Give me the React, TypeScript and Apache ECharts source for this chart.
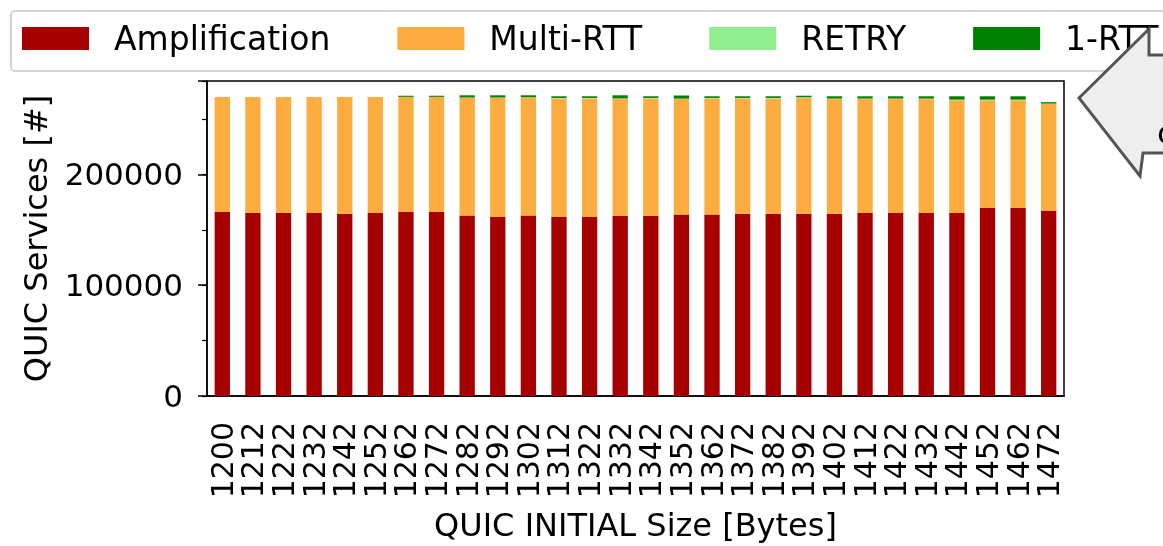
import React, { useEffect, useRef } from "react";
import * as echarts from "echarts";

const categories = ["1200","1212","1222","1232","1242","1252","1262","1272","1282","1292","1302","1312","1322","1332","1342","1352","1362","1372","1382","1392","1402","1412","1422","1432","1442","1452","1462","1472"];
const amplification = [166100,165200,165200,165200,164500,165200,166100,166100,162800,161600,162800,161600,161600,162500,162500,163700,163700,164500,164500,164500,164500,165200,165200,165200,165200,169700,169700,167000];
const multiRtt = [103800,104700,104700,104700,105400,104700,103700,103700,106200,107400,106400,107000,107000,105700,106100,104300,104900,104100,104100,104400,103500,102800,102800,102800,101800,97300,97300,96600];
const retry = [0,0,0,0,0,0,200,200,400,400,400,400,400,400,400,400,400,400,400,800,500,500,500,500,500,500,500,300];
const oneRtt = [0,0,0,0,0,0,1000,1000,2000,2000,1800,1500,1500,2800,1500,2800,1500,1500,1500,1300,2000,2000,2000,2000,3000,3000,3000,1300];
const yTicks = [0, 100000, 200000];

const FONT = "DejaVu Sans";

export default function App() {
  const ref = useRef<HTMLDivElement>(null);
  useEffect(() => {
    if (!ref.current) return;
    const chart = echarts.init(ref.current, undefined, { renderer: "svg" });
    const mk = (name: string, data: number[], color: string) => ({
      name,
      type: "bar",
      stack: "total",
      barWidth: "50%",
      data,
      itemStyle: { color },
      emphasis: { disabled: true },
    });
    chart.setOption({
      animation: false,
      textStyle: { fontFamily: FONT, color: "#000" },
      legend: {
        left: 22,
        top: 22,
        width: 1400,
        orient: "horizontal",
        padding: 0,
        itemWidth: 67,
        itemHeight: 23,
        itemGap: 67,
        icon: "rect",
        selectedMode: false,
        textStyle: { fontFamily: FONT, fontSize: 33, color: "#000", lineHeight: 32, padding: [0, 0, 0, 20] },
        data: ["Amplification", "Multi-RTT", "RETRY", "1-RTT"],
        z: 5,
      },
      grid: {
        left: 207,
        right: 99,
        top: 81,
        bottom: 147.5,
        show: true,
        borderColor: "#000",
        borderWidth: 1.5,
        backgroundColor: "transparent",
      },
      xAxis: {
        type: "category",
        data: categories,
        boundaryGap: true,
        name: "QUIC INITIAL Size [Bytes]",
        nameLocation: "middle",
        nameGap: 113,
        nameTextStyle: { fontFamily: FONT, fontSize: 32, color: "#000" },
        axisLine: { lineStyle: { color: "#000", width: 1.5 } },
        axisTick: { alignWithLabel: true, length: 9, lineStyle: { color: "#000", width: 1.5 } },
        axisLabel: { rotate: 90, interval: 0, fontFamily: FONT, fontSize: 30, color: "#000", margin: 26 },
        splitLine: { show: false },
      },
      yAxis: [
        {
          type: "value",
          min: 0,
          max: 284300,
          interval: 100000,
          name: "QUIC Services [#]",
          nameLocation: "middle",
          nameGap: 155,
          nameRotate: 90,
          nameTextStyle: { fontFamily: FONT, fontSize: 32, color: "#000" },
          axisLine: { show: true, lineStyle: { color: "#000", width: 1.5 } },
          axisTick: { show: true, length: 9, lineStyle: { color: "#000", width: 1.5 } },
          axisLabel: {
            fontFamily: FONT,
            fontSize: 31,
            color: "#000",
            margin: 24,
            formatter: (v: number) => (yTicks.includes(v) ? String(v) : ""),
          },
          splitLine: { show: false },
        },
        {
          type: "value",
          min: 0,
          max: 284300,
          interval: 50000,
          position: "left",
          axisLine: { show: false },
          axisTick: { show: true, length: 5, lineStyle: { color: "#000", width: 1.2 } },
          axisLabel: { show: false },
          splitLine: { show: false },
        },
      ],
      series: [
        mk("Amplification", amplification, "#a60000"),
        mk("Multi-RTT", multiRtt, "#fdad40"),
        mk("RETRY", retry, "#90ee90"),
        mk("1-RTT", oneRtt, "#008000"),
      ],
      graphic: [
        {
          type: "rect",
          z: 1,
          shape: { x: 11, y: 11, width: 1200, height: 60, r: 4 },
          style: { fill: "#fff", stroke: "#d4d4d4", lineWidth: 2 },
        },
        {
          type: "polygon",
          z: 100,
          shape: {
            points: [
              [1079, 98],
              [1149, 29],
              [1149, 55],
              [1190, 55],
              [1190, 153],
              [1143, 153],
              [1140, 176],
            ],
          },
          style: { fill: "#eeeeee", stroke: "#555555", lineWidth: 3 },
        },
        {
          type: "text",
          z: 101,
          x: 1157,
          y: 133,
          style: { text: "c", fontFamily: FONT, fontSize: 32, fill: "#000", verticalAlign: "middle", align: "left" },
        },
      ],
    });
    return () => chart.dispose();
  }, []);
  return <div ref={ref} style={{ position: "fixed", left: 0, top: 0, width: 1163, height: 546 }} />;
}
